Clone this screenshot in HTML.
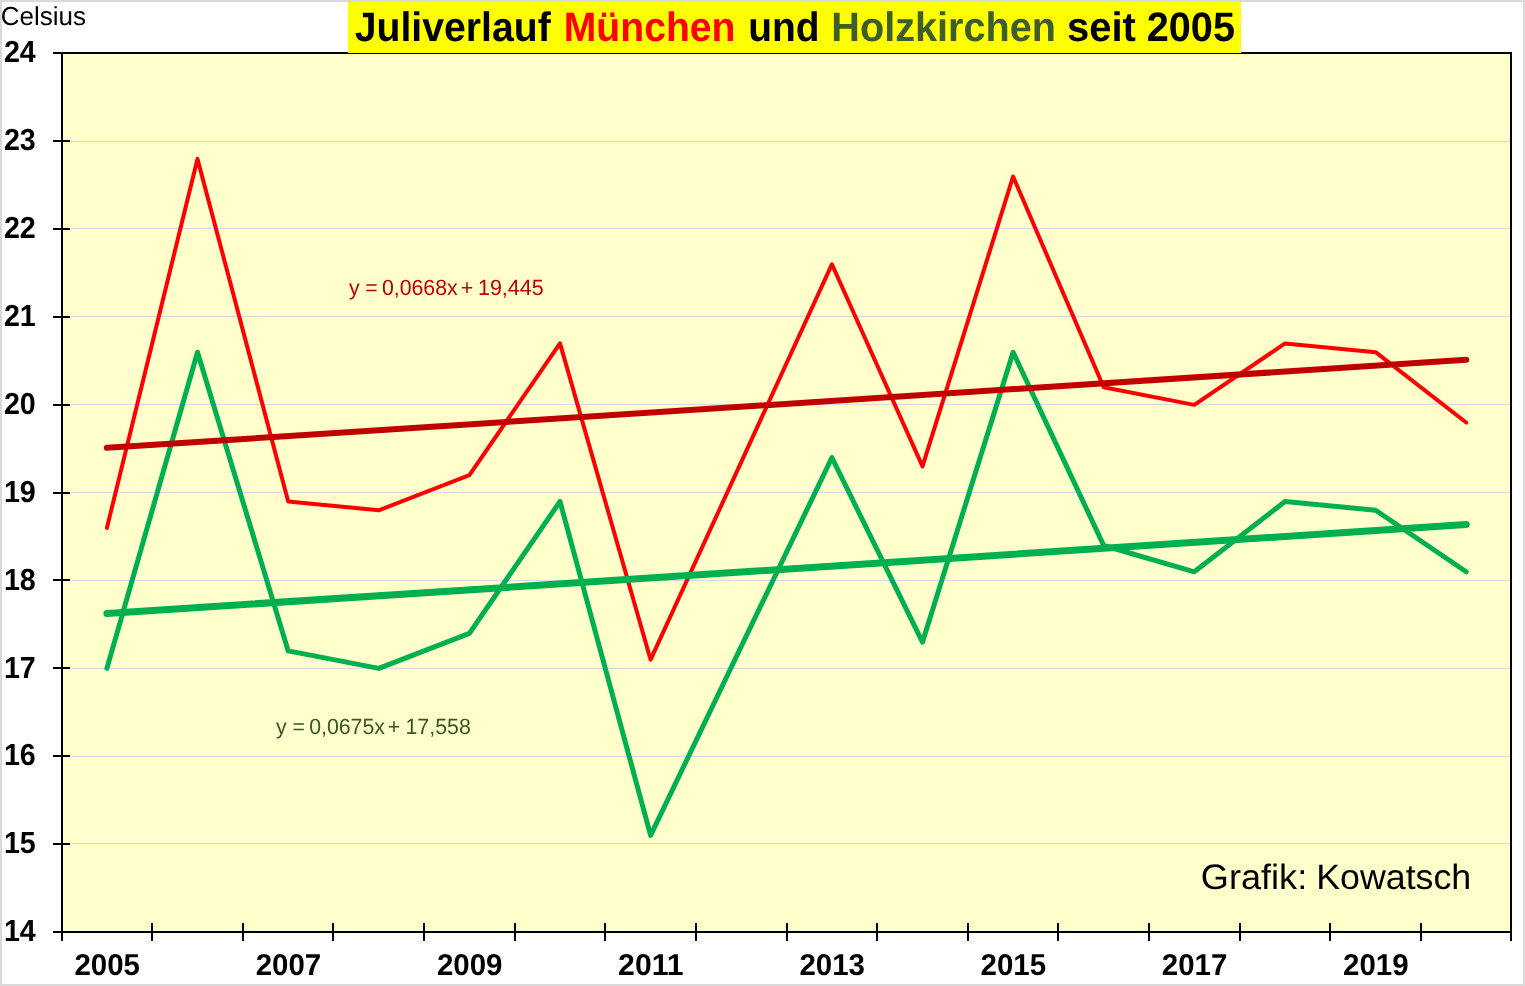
<!DOCTYPE html>
<html lang="de"><head><meta charset="utf-8"><title>Juliverlauf München und Holzkirchen seit 2005</title>
<style>html,body{margin:0;padding:0;background:#fff}svg{display:block}text{font-family:"Liberation Sans",sans-serif;font-variant-ligatures:none;font-kerning:normal;text-rendering:geometricPrecision}</style></head><body>
<svg width="1525" height="986" viewBox="0 0 1525 986">
<rect x="0" y="0" width="1525" height="986" fill="#d9d9d9"/>
<rect x="2" y="2" width="1521" height="982" fill="#ffffff"/>
<rect x="62.0" y="53.0" width="1449.0" height="879.0" fill="#ffffcc"/>
<line x1="62.0" y1="141.5" x2="1511.0" y2="141.5" stroke="#d9d9d9" stroke-width="1"/>
<line x1="62.0" y1="228.5" x2="1511.0" y2="228.5" stroke="#d9d9d9" stroke-width="1"/>
<line x1="62.0" y1="316.5" x2="1511.0" y2="316.5" stroke="#d9d9d9" stroke-width="1"/>
<line x1="62.0" y1="404.5" x2="1511.0" y2="404.5" stroke="#d9d9d9" stroke-width="1"/>
<line x1="62.0" y1="492.5" x2="1511.0" y2="492.5" stroke="#d9d9d9" stroke-width="1"/>
<line x1="62.0" y1="580.5" x2="1511.0" y2="580.5" stroke="#d9d9d9" stroke-width="1"/>
<line x1="62.0" y1="668.5" x2="1511.0" y2="668.5" stroke="#d9d9d9" stroke-width="1"/>
<line x1="62.0" y1="756.5" x2="1511.0" y2="756.5" stroke="#d9d9d9" stroke-width="1"/>
<line x1="62.0" y1="843.5" x2="1511.0" y2="843.5" stroke="#d9d9d9" stroke-width="1"/>
<rect x="62.0" y="53.0" width="1449.0" height="879.0" fill="none" stroke="#000" stroke-width="2"/>
<line x1="53" y1="932" x2="70" y2="932" stroke="#000" stroke-width="2"/>
<line x1="53" y1="844" x2="70" y2="844" stroke="#000" stroke-width="2"/>
<line x1="53" y1="756" x2="70" y2="756" stroke="#000" stroke-width="2"/>
<line x1="53" y1="668" x2="70" y2="668" stroke="#000" stroke-width="2"/>
<line x1="53" y1="580" x2="70" y2="580" stroke="#000" stroke-width="2"/>
<line x1="53" y1="493" x2="70" y2="493" stroke="#000" stroke-width="2"/>
<line x1="53" y1="405" x2="70" y2="405" stroke="#000" stroke-width="2"/>
<line x1="53" y1="317" x2="70" y2="317" stroke="#000" stroke-width="2"/>
<line x1="53" y1="229" x2="70" y2="229" stroke="#000" stroke-width="2"/>
<line x1="53" y1="141" x2="70" y2="141" stroke="#000" stroke-width="2"/>
<line x1="53" y1="53" x2="70" y2="53" stroke="#000" stroke-width="2"/>
<line x1="62" y1="923" x2="62" y2="941" stroke="#000" stroke-width="2"/>
<line x1="152" y1="923" x2="152" y2="941" stroke="#000" stroke-width="2"/>
<line x1="243" y1="923" x2="243" y2="941" stroke="#000" stroke-width="2"/>
<line x1="333" y1="923" x2="333" y2="941" stroke="#000" stroke-width="2"/>
<line x1="424" y1="923" x2="424" y2="941" stroke="#000" stroke-width="2"/>
<line x1="515" y1="923" x2="515" y2="941" stroke="#000" stroke-width="2"/>
<line x1="605" y1="923" x2="605" y2="941" stroke="#000" stroke-width="2"/>
<line x1="696" y1="923" x2="696" y2="941" stroke="#000" stroke-width="2"/>
<line x1="787" y1="923" x2="787" y2="941" stroke="#000" stroke-width="2"/>
<line x1="877" y1="923" x2="877" y2="941" stroke="#000" stroke-width="2"/>
<line x1="968" y1="923" x2="968" y2="941" stroke="#000" stroke-width="2"/>
<line x1="1058" y1="923" x2="1058" y2="941" stroke="#000" stroke-width="2"/>
<line x1="1149" y1="923" x2="1149" y2="941" stroke="#000" stroke-width="2"/>
<line x1="1240" y1="923" x2="1240" y2="941" stroke="#000" stroke-width="2"/>
<line x1="1330" y1="923" x2="1330" y2="941" stroke="#000" stroke-width="2"/>
<line x1="1421" y1="923" x2="1421" y2="941" stroke="#000" stroke-width="2"/>
<line x1="1511" y1="923" x2="1511" y2="941" stroke="#000" stroke-width="2"/>
<rect x="348" y="2" width="893" height="51" fill="#ffff00"/>
<text y="41.0" font-size="41.2" font-weight="bold"><tspan x="354.74" textLength="195.99" lengthAdjust="spacingAndGlyphs">Juliverlauf</tspan> <tspan x="563.69" textLength="171.84" lengthAdjust="spacingAndGlyphs" fill="#ff0000">München</tspan> <tspan x="748.28" textLength="71.41" lengthAdjust="spacingAndGlyphs">und</tspan> <tspan x="831.35" textLength="224.66" lengthAdjust="spacingAndGlyphs" fill="#3e5d2b">Holzkirchen</tspan> <tspan x="1066.98" textLength="68.92" lengthAdjust="spacingAndGlyphs">seit</tspan> <tspan x="1146.72" textLength="88.32" lengthAdjust="spacingAndGlyphs">2005</tspan></text>
<text x="0.81" y="24.8" font-size="26" textLength="85.3" lengthAdjust="spacingAndGlyphs">Celsius</text>
<text x="3.9" y="941.2" font-size="30.4" font-weight="bold" textLength="31.9" lengthAdjust="spacingAndGlyphs">14</text>
<text x="3.9" y="853.3" font-size="30.4" font-weight="bold" textLength="31.9" lengthAdjust="spacingAndGlyphs">15</text>
<text x="3.9" y="765.4" font-size="30.4" font-weight="bold" textLength="31.9" lengthAdjust="spacingAndGlyphs">16</text>
<text x="3.9" y="677.5" font-size="30.4" font-weight="bold" textLength="31.9" lengthAdjust="spacingAndGlyphs">17</text>
<text x="3.9" y="589.6" font-size="30.4" font-weight="bold" textLength="31.9" lengthAdjust="spacingAndGlyphs">18</text>
<text x="3.9" y="501.7" font-size="30.4" font-weight="bold" textLength="31.9" lengthAdjust="spacingAndGlyphs">19</text>
<text x="3.9" y="413.8" font-size="30.4" font-weight="bold" textLength="31.9" lengthAdjust="spacingAndGlyphs">20</text>
<text x="3.9" y="325.9" font-size="30.4" font-weight="bold" textLength="31.9" lengthAdjust="spacingAndGlyphs">21</text>
<text x="3.9" y="238.0" font-size="30.4" font-weight="bold" textLength="31.9" lengthAdjust="spacingAndGlyphs">22</text>
<text x="3.9" y="150.1" font-size="30.4" font-weight="bold" textLength="31.9" lengthAdjust="spacingAndGlyphs">23</text>
<text x="3.9" y="62.2" font-size="30.4" font-weight="bold" textLength="31.9" lengthAdjust="spacingAndGlyphs">24</text>
<text x="74.4" y="975.2" font-size="30.2" font-weight="bold" textLength="65.5" lengthAdjust="spacingAndGlyphs">2005</text>
<text x="255.7" y="975.2" font-size="30.2" font-weight="bold" textLength="65.5" lengthAdjust="spacingAndGlyphs">2007</text>
<text x="436.9" y="975.2" font-size="30.2" font-weight="bold" textLength="65.5" lengthAdjust="spacingAndGlyphs">2009</text>
<text x="618.1" y="975.2" font-size="30.2" font-weight="bold" textLength="65.5" lengthAdjust="spacingAndGlyphs">2011</text>
<text x="799.4" y="975.2" font-size="30.2" font-weight="bold" textLength="65.5" lengthAdjust="spacingAndGlyphs">2013</text>
<text x="980.6" y="975.2" font-size="30.2" font-weight="bold" textLength="65.5" lengthAdjust="spacingAndGlyphs">2015</text>
<text x="1161.8" y="975.2" font-size="30.2" font-weight="bold" textLength="65.5" lengthAdjust="spacingAndGlyphs">2017</text>
<text x="1343.1" y="975.2" font-size="30.2" font-weight="bold" textLength="65.5" lengthAdjust="spacingAndGlyphs">2019</text>
<polyline points="106.9,668.4 197.5,352.2 288.2,650.9 378.8,668.4 469.4,633.3 560.0,501.5 650.6,835.4 831.9,457.6 922.5,642.1 1013.1,352.2 1103.7,545.5 1194.3,571.8 1285.0,501.5 1375.6,510.3 1466.2,571.8" fill="none" stroke="#00b050" stroke-width="5" stroke-linejoin="round" stroke-linecap="round"/>
<polyline points="106.9,527.9 197.5,158.9 288.2,501.5 378.8,510.3 469.4,475.2 560.0,343.4 650.6,659.7 831.9,264.3 922.5,466.4 1013.1,176.5 1103.7,387.3 1194.3,404.9 1285.0,343.4 1375.6,352.2 1466.2,422.5" fill="none" stroke="#ff0000" stroke-width="4" stroke-linejoin="round" stroke-linecap="round"/>
<line x1="106.9" y1="613.5" x2="1466.2" y2="524.6" stroke="#00b050" stroke-width="7" stroke-linecap="round"/>
<line x1="106.9" y1="447.8" x2="1466.2" y2="359.8" stroke="#c00000" stroke-width="6" stroke-linecap="round"/>
<text y="294.9" font-size="22" fill="#c00000"><tspan x="349.12" textLength="10.67" lengthAdjust="spacingAndGlyphs">y</tspan> <tspan x="365.17" textLength="12.46" lengthAdjust="spacingAndGlyphs">=</tspan> <tspan x="381.95" textLength="75.75" lengthAdjust="spacingAndGlyphs">0,0668x</tspan> <tspan x="460.72" textLength="12.46" lengthAdjust="spacingAndGlyphs">+</tspan> <tspan x="477.96" textLength="65.78" lengthAdjust="spacingAndGlyphs">19,445</tspan></text>
<text y="733.8" font-size="22" fill="#375623"><tspan x="276.12" textLength="10.67" lengthAdjust="spacingAndGlyphs">y</tspan> <tspan x="292.47" textLength="12.46" lengthAdjust="spacingAndGlyphs">=</tspan> <tspan x="309.15" textLength="75.85" lengthAdjust="spacingAndGlyphs">0,0675x</tspan> <tspan x="387.77" textLength="12.46" lengthAdjust="spacingAndGlyphs">+</tspan> <tspan x="405.47" textLength="65.36" lengthAdjust="spacingAndGlyphs">17,558</tspan></text>
<text y="889.0" font-size="35.3" fill="#000"><tspan x="1200.86" textLength="106.36" lengthAdjust="spacingAndGlyphs">Grafik:</tspan> <tspan x="1316.17" textLength="155.07" lengthAdjust="spacingAndGlyphs">Kowatsch</tspan></text>
</svg></body></html>
